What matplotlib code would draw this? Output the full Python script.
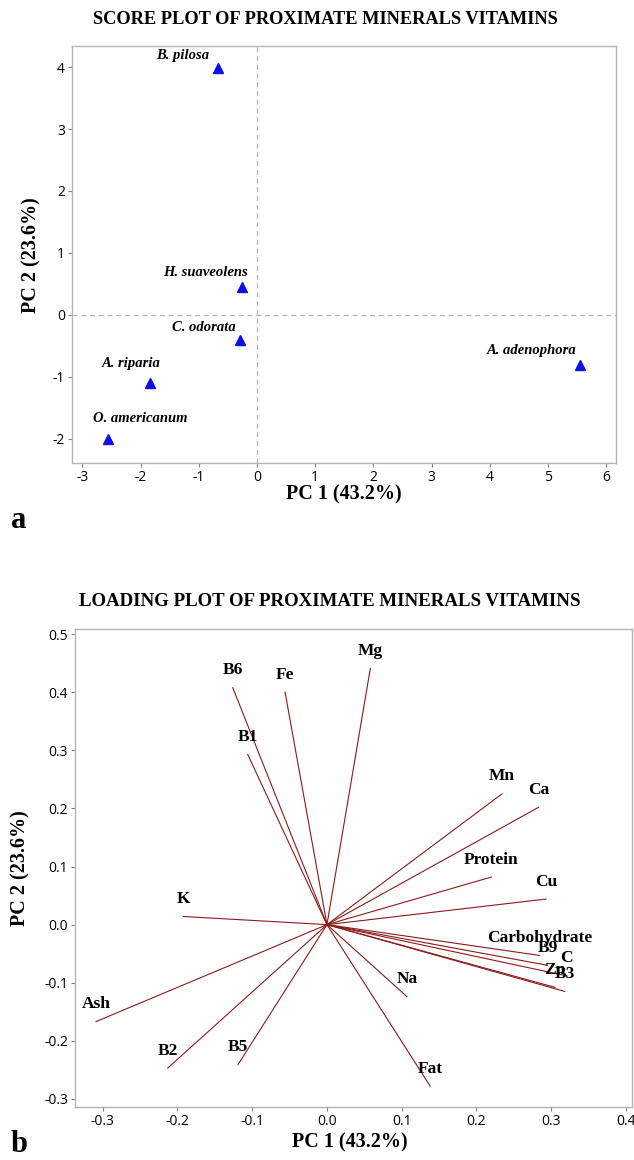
import numpy as np
import matplotlib
matplotlib.use("Agg")
import matplotlib.pyplot as plt

plt.rcParams['axes.unicode_minus'] = False

# score plot data (PC1, PC2 scores per species)
species = ["B. pilosa", "H. suaveolens", "C. odorata", "A. riparia",
           "O. americanum", "A. adenophora"]
pc1_score = [-0.67, -0.25, -0.29, -1.84, -2.56, 5.55]
pc2_score = [3.98, 0.45, -0.41, -1.10, -2.01, -0.81]

# loading plot data (PC1, PC2 loadings per variable)
variables = ["Mg", "B6", "Fe", "B1", "K", "Mn", "Ca", "Protein", "Cu",
             "Carbohydrate", "B9", "C", "Zn", "B3", "Na", "Fat", "Ash", "B2", "B5"]
pc1_load = [0.058, -0.126, -0.056, -0.106, -0.192, 0.234, 0.283, 0.220, 0.293,
            0.284, 0.295, 0.320, 0.305, 0.318, 0.107, 0.138, -0.309, -0.213, -0.119]
pc2_load = [0.441, 0.408, 0.400, 0.293, 0.014, 0.225, 0.202, 0.082, 0.044,
            -0.053, -0.070, -0.088, -0.108, -0.115, -0.124, -0.278, -0.167, -0.247, -0.241]

# label offsets for species names (pixels, relative to marker)
label_offsets = [(-35, 13), (-37, 15), (-36, 13), (-19, 20), (32, 21), (-48, 15)]

serif = "Liberation Serif"
sans = "Open Sans"
spine_col = "#b4b4b4"

fig = plt.figure(figsize=(6.34, 11.6), dpi=100)


def style_axes(ax):
    for s in ax.spines.values():
        s.set_color(spine_col)
        s.set_linewidth(1.0)
    ax.tick_params(direction="out", length=3, width=0.8, color="#808080",
                   labelsize=10, pad=2)
    for lab in ax.get_xticklabels() + ax.get_yticklabels():
        lab.set_fontfamily(sans)


# ---- a: score plot
ax1 = fig.add_axes([72 / 634, 1 - 463 / 1160, 544 / 634, 417 / 1160])
ax1.axhline(0, color="#b4b4b4", lw=0.9, ls=(0, (4, 3)), zorder=1)
ax1.axvline(0, color="#b4b4b4", lw=0.9, ls=(0, (4, 3)), zorder=1)
ax1.plot(pc1_score, pc2_score, ls="none", marker="^", ms=7.5,
         color="#1010e6", zorder=3)
for name, x, y, (dx, dy) in zip(species, pc1_score, pc2_score, label_offsets):
    ax1.annotate(name, (x, y), xytext=(dx, dy), textcoords="offset pixels",
                 ha="center", va="center", fontfamily=serif, fontsize=10.5,
                 fontweight="bold", fontstyle="italic")
ax1.set_xlim(-3.18, 6.17)
ax1.set_ylim(-2.39, 4.34)
ax1.set_xticks(range(-3, 7))
ax1.set_yticks(range(-2, 5))
style_axes(ax1)

fig.text(325 / 634, 1 - 20 / 1160, "SCORE PLOT OF PROXIMATE MINERALS VITAMINS",
         ha="center", va="center", fontfamily=serif, fontsize=13.2, fontweight="bold")
fig.text(344 / 634, 1 - 494 / 1160, "PC 1 (43.2%)", ha="center", va="center",
         fontfamily=serif, fontsize=14.5, fontweight="bold")
fig.text(31 / 634, 1 - 255 / 1160, "PC 2 (23.6%)", ha="center", va="center",
         rotation=90, fontfamily=serif, fontsize=14.5, fontweight="bold")
fig.text(19 / 634, 1 - 521 / 1160, "a", ha="center", va="center",
         fontfamily=serif, fontsize=22, fontweight="bold")

# ---- b: loading plot
ax2 = fig.add_axes([75 / 634, 1 - 1107 / 1160, 557 / 634, 478 / 1160])
for name, x, y in zip(variables, pc1_load, pc2_load):
    ax2.plot([0, x], [0, y], color="#8b1a1a", lw=0.8)
    ax2.annotate(name, (x, y), xytext=(0, 17.5), textcoords="offset pixels",
                 ha="center", va="center", fontfamily=serif, fontsize=12.5,
                 fontweight="bold")
ax2.set_xlim(-0.337, 0.408)
ax2.set_ylim(-0.314, 0.509)
ax2.set_xticks(np.round(np.arange(-0.3, 0.41, 0.1), 1))
ax2.set_yticks(np.round(np.arange(-0.3, 0.51, 0.1), 1))
ax2.xaxis.set_major_formatter(matplotlib.ticker.FormatStrFormatter("%.1f"))
ax2.yaxis.set_major_formatter(matplotlib.ticker.FormatStrFormatter("%.1f"))
style_axes(ax2)

fig.text(330 / 634, 1 - 601 / 1160, "LOADING PLOT OF PROXIMATE MINERALS VITAMINS",
         ha="center", va="center", fontfamily=serif, fontsize=13.6, fontweight="bold")
fig.text(350 / 634, 1 - 1142 / 1160, "PC 1 (43.2%)", ha="center", va="center",
         fontfamily=serif, fontsize=14.5, fontweight="bold")
fig.text(20 / 634, 1 - 868 / 1160, "PC 2 (23.6%)", ha="center", va="center",
         rotation=90, fontfamily=serif, fontsize=14.5, fontweight="bold")
fig.text(19 / 634, 1 - 1144 / 1160, "b", ha="center", va="center",
         fontfamily=serif, fontsize=22, fontweight="bold")

fig.savefig("out.png", dpi=100)
